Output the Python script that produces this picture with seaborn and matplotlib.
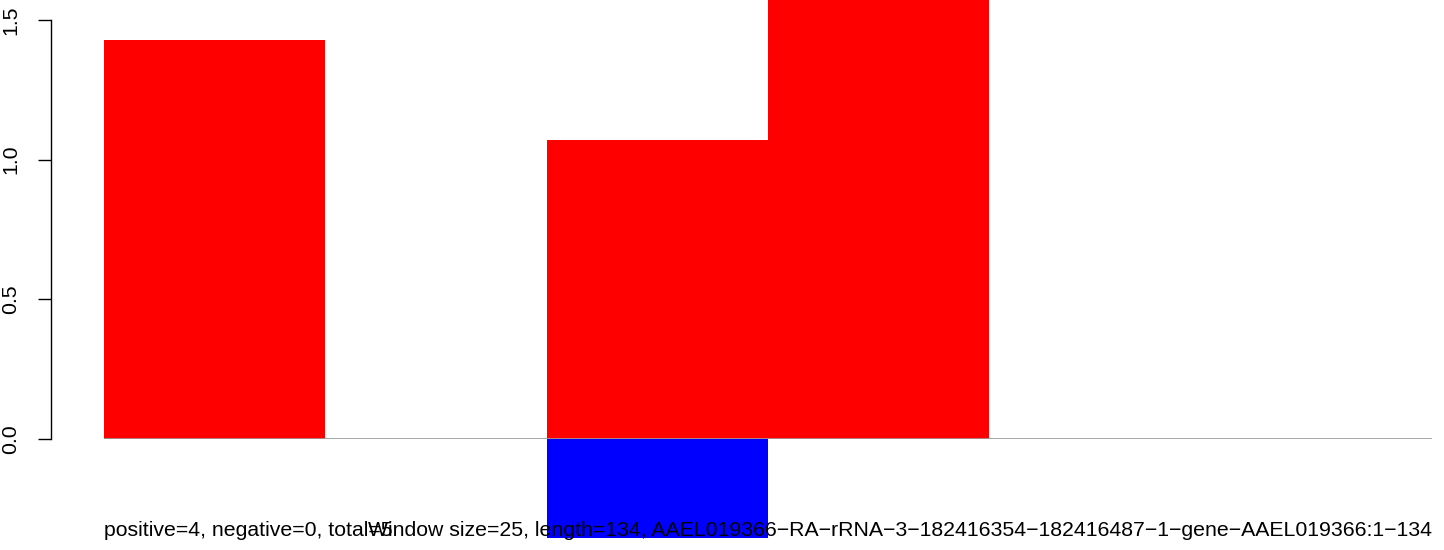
import matplotlib
matplotlib.use("Agg")
import matplotlib.pyplot as plt
import seaborn as sns
import pandas as pd

# Per-window scores along the transcript (window size 25, length 134)
windows = ["1", "2", "3", "4", "5", "6"]
positive_scores = [1.43, 0.0, 1.07, 1.58, 0.0, 0.0]
negative_scores = [0.0, 0.0, -0.355, 0.0, 0.0, 0.0]
y_ticks = [0.0, 0.5, 1.0, 1.5]
y_tick_labels = ["0.0", "0.5", "1.0", "1.5"]
summary_text = "positive=4, negative=0, total=5"
title_text = ("Window size=25, length=134, "
              "AAEL019366\u2212RA\u2212rRNA\u22123\u2212182416354\u2212182416487"
              "\u22121\u2212gene\u2212AAEL019366:1\u2212134")

sns.set_style("white")
plt.rcParams["font.family"] = ["Liberation Sans", "DejaVu Sans"]

FS = 15.3
W, H = 1444, 550
fig = plt.figure(figsize=(W / 100, H / 100), dpi=100)
ax = fig.add_axes([104 / W, (H - 439) / H, 1328 / W, 419 / H])

df = pd.DataFrame({"window": windows, "pos": positive_scores, "neg": negative_scores})
sns.barplot(data=df, x="window", y="pos", color="#ff0000", saturation=1,
            width=1.0, linewidth=0, ax=ax)
sns.barplot(data=df, x="window", y="neg", color="#0000ff", saturation=1,
            width=1.0, linewidth=0, ax=ax)
for p in ax.patches:
    p.set_clip_on(False)
    p.set_zorder(1)

ax.axhline(0, color="#9a9a9a", lw=1.2, zorder=2)
ax.set_xlim(-0.5, len(windows) - 0.5)
ax.set_ylim(0, 1.5)

for s in ["top", "right", "bottom"]:
    ax.spines[s].set_visible(False)
ax.spines["left"].set_position(("outward", 38))
ax.spines["left"].set_bounds(0, 1.5)
ax.spines["left"].set_color("black")
ax.spines["left"].set_linewidth(1.0)
ax.set_xticks([])
ax.set_yticks(y_ticks)
ax.set_yticklabels(y_tick_labels, rotation=90, va="center", fontsize=FS)
ax.tick_params(axis="y", direction="out", length=9.4, width=1.0, pad=13,
               left=True, colors="black")
ax.set_xlabel("")
ax.set_ylabel("")
ax.patch.set_alpha(0)

fig.text(104 / W, (H - 536) / H, summary_text, ha="left", va="baseline",
         fontsize=FS, color="black", zorder=5)
fig.text(1432 / W, (H - 536) / H, title_text, ha="right", va="baseline",
         fontsize=FS, color="black", zorder=5)

fig.savefig("out.png", dpi=100, facecolor="white")
